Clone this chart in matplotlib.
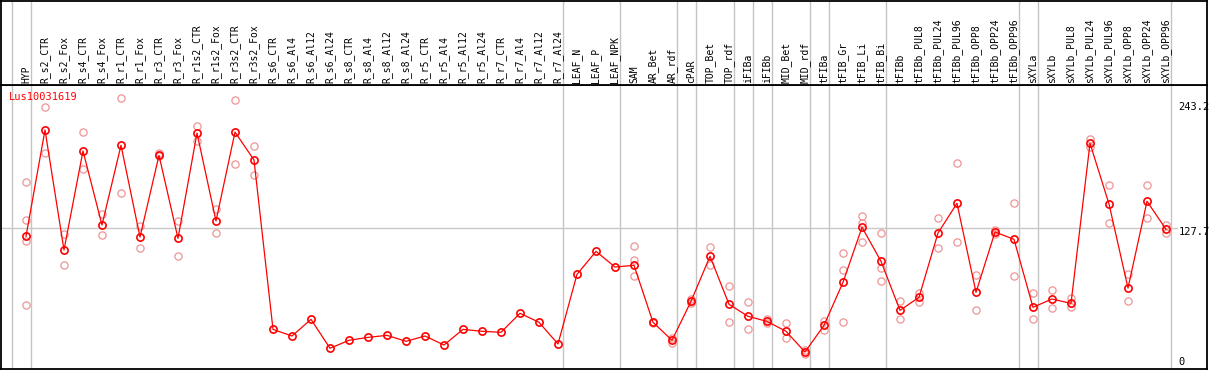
import matplotlib
matplotlib.use("Agg")
import matplotlib.pyplot as plt
import matplotlib.transforms as mtransforms

# ── Data ──────────────────────────────────────────────────────────────────────
GENE_ID = "Lus10031619"

CATEGORIES = [
    "HYP", "R_s2_CTR", "R_s2_Fox", "R_s4_CTR", "R_s4_Fox", "R_r1_CTR", "R_r1_Fox",
    "R_r3_CTR", "R_r3_Fox", "R_r1s2_CTR", "R_r1s2_Fox", "R_r3s2_CTR", "R_r3s2_Fox",
    "R_s6_CTR", "R_s6_Al4", "R_s6_Al12", "R_s6_Al24", "R_s8_CTR", "R_s8_Al4",
    "R_s8_Al12", "R_s8_Al24", "R_r5_CTR", "R_r5_Al4", "R_r5_Al12", "R_r5_Al24",
    "R_r7_CTR", "R_r7_Al4", "R_r7_Al12", "R_r7_Al24", "LEAF_N", "LEAF_P", "LEAF_NPK",
    "SAM", "AR_Bet", "AR_rdf", "cPAR", "TOP_Bet", "TOP_rdf", "iFIBa", "iFIBb",
    "MID_Bet", "MID_rdf", "tFIBa", "tFIB_Gr", "tFIB_Li", "tFIB_Bi", "tFIBb",
    "tFIBb_PUL8", "tFIBb_PUL24", "tFIBb_PUL96", "tFIBb_OPP8", "tFIBb_OPP24",
    "tFIBb_OPP96", "sXYLa", "sXYLb", "sXYLb_PUL8", "sXYLb_PUL24", "sXYLb_PUL96",
    "sXYLb_OPP8", "sXYLb_OPP24", "sXYLb_OPP96",
]

MEANS = [
    120.6, 215.0, 108.4, 196.4, 130.6, 201.4, 119.9, 192.5, 118.8, 212.3, 134.2,
    213.2, 188.4, 37.9, 32.0, 46.8, 21.1, 28.2, 30.8, 32.6, 27.3, 32.0, 24.0,
    37.9, 36.2, 35.3, 52.2, 44.2, 24.9, 86.8, 107.2, 93.3, 94.8, 44.2, 28.2,
    62.8, 102.8, 60.2, 49.5, 45.0, 36.2, 17.8, 41.5, 79.7, 128.6, 98.4, 54.8,
    66.4, 123.5, 149.9, 70.8, 124.4, 117.9, 57.5, 64.9, 61.0, 203.2, 149.3,
    74.6, 151.7, 126.8,
]

REPLICATES = [
    [169.1, 134.8, 116.4, 59.3], [235.2, 194.3], [122.3, 94.8], [213.0, 180.1],
    [140.1, 121.5], [243.2, 158.8], [129.7, 109.9], [194.8, 191.9], [134.2, 102.8],
    [218.8, 205.2], [144.6, 123.5], [241.7, 184.5], [200.5, 174.8],
    [], [], [], [], [], [], [], [], [], [], [], [], [], [], [], [], [], [], [],
    [111.7, 99.5, 85.0], [43.5, 44.8], [30.5, 26.0], [61.0, 64.6], [110.8, 94.8],
    [76.1, 44.2], [61.9, 37.9], [46.8, 43.8], [43.3, 29.9], [19.3, 15.7],
    [45.6, 37.3], [105.5, 90.4, 44.2], [138.3, 132.1, 115.2], [123.2, 92.1, 80.6],
    [62.8, 46.8], [70.5, 62.5], [136.6, 109.9], [185.4, 115.2], [85.9, 54.8],
    [126.2, 122.6], [149.9, 85.6], [69.9, 46.8], [72.9, 56.6], [65.5, 58.0],
    [206.8, 199.9], [165.9, 132.4], [86.8, 62.8], [165.9, 136.6], [130.3, 123.5],
]

# index of the last category in each tissue group (separator drawn after it)
GROUP_ENDS = [-1, 0, 28, 31, 34, 35, 37, 38, 39, 41, 42, 45, 52, 53, 60]

Y_LABELS = [243.2, 127.7, 0]
MID_LINE = 127.7

# ── Figure ────────────────────────────────────────────────────────────────────
W, H = 1209, 370
fig = plt.figure(figsize=(W / 100, H / 100), dpi=100)
fig.patch.set_facecolor("white")


def px_box(x0, y0, x1, y1):
    return [x0 / W, 1 - y1 / H, (x1 - x0) / W, (y1 - y0) / H]


ax = fig.add_axes(px_box(1, 85, 1207, 369))
axh = fig.add_axes(px_box(1, 0.6, 1207, 85), sharex=ax)

n = len(CATEGORIES)
xs = list(range(n))
ax.set_xlim((1 - 26) / 19, (1207 - 26) / 19)
ax.set_ylim(2.7, 255.0)
axh.set_ylim(0, 1)

for a in (ax, axh):
    a.set_xticks([])
    a.set_yticks([])
    for s in a.spines.values():
        s.set_color("black")
        s.set_linewidth(1.3)
    for g in GROUP_ENDS:
        a.axvline(g + 0.24, color="#c4c4c4", lw=1.0, zorder=0)

ax.axhline(MID_LINE, xmax=0.975, color="#c8c8c8", lw=1.0, zorder=0)

# replicates
rx, ry = [], []
for i, reps in enumerate(REPLICATES):
    for v in reps:
        rx.append(i)
        ry.append(v)
ax.plot(rx, ry, linestyle="none", marker="o", markersize=5.2,
        markerfacecolor="none", markeredgecolor="#ee9494", markeredgewidth=0.9,
        zorder=2)

# means
ax.plot(xs, MEANS, color="#ff0000", lw=0.9, marker="o", markersize=5.2,
        markerfacecolor="none", markeredgecolor="#ff0000", markeredgewidth=1.2,
        zorder=3)

mono = "DejaVu Sans Mono"

ax.annotate(GENE_ID, xy=(0, 1), xycoords="axes fraction", xytext=(6, -8.6),
            textcoords="offset points", ha="left", va="center",
            color="#ff0000", fontsize=7.5, family=mono)

offsets = {243.2: -6.6, 127.7: -2.6, 0: 7.2}
for v in Y_LABELS:
    ax.annotate(f"{v:g}", xy=(1, v), xycoords=("axes fraction", "data"),
                xytext=(-20.6, offsets[v]), textcoords="offset points",
                ha="left", va="center", fontsize=7.5, family=mono,
                color="black", annotation_clip=False)

trans = mtransforms.blended_transform_factory(axh.transData, axh.transAxes)
for i, name in enumerate(CATEGORIES):
    axh.text(i, 0.024, name, rotation=90, ha="center", va="bottom",
             transform=trans, fontsize=7, family=mono, color="black")

fig.savefig("out.png", dpi=100)
